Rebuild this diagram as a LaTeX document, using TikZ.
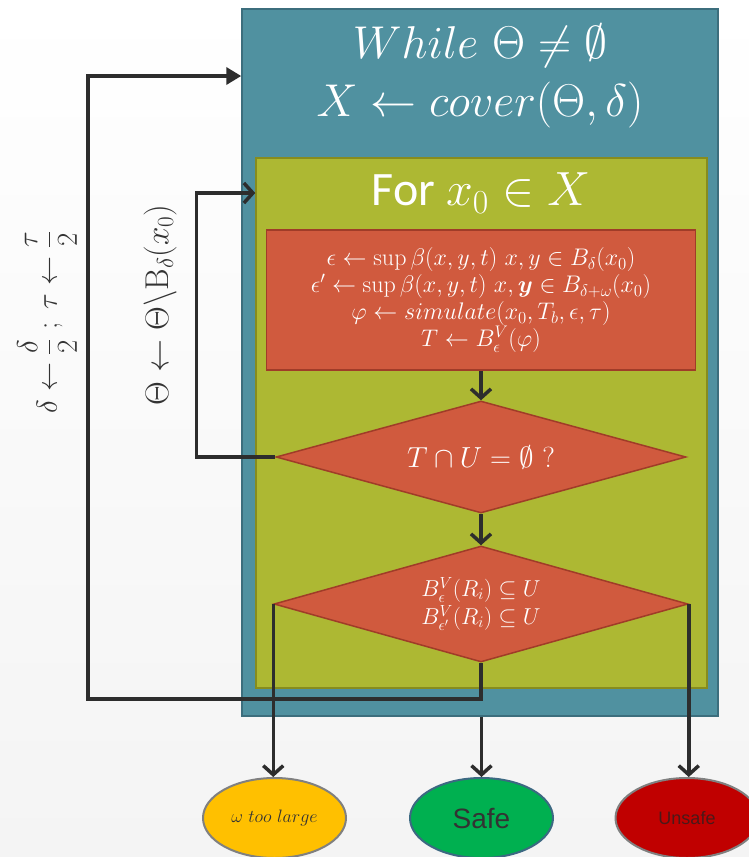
\RequirePackage{fix-cm}
\documentclass[tikz,border=0pt]{standalone}
\usepackage{amsmath,amssymb}
\usepackage{fontspec}
\setsansfont{Carlito}
\newfontfamily\arialfont{Liberation Sans}
\usepackage{tikz}
\usetikzlibrary{shapes.geometric, arrows.meta, positioning}
\definecolor{whileblue}{RGB}{80,145,160}
\definecolor{whileedge}{RGB}{60,110,125}
\definecolor{forgreen}{RGB}{173,184,51}
\definecolor{foredge}{RGB}{135,140,30}
\definecolor{stepred}{RGB}{208,90,62}
\definecolor{stepedge}{RGB}{160,60,40}
\definecolor{flowline}{RGB}{45,45,45}
\definecolor{warnyellow}{RGB}{255,192,0}
\definecolor{safegreen}{RGB}{0,176,80}
\definecolor{unsafered}{RGB}{192,0,0}
\definecolor{ringgray}{RGB}{128,128,128}
\definecolor{ringblue}{RGB}{60,105,130}

\begin{document}
\begin{tikzpicture}[x=1pt, y=-1pt,
    boxnode/.style={rectangle, line width=1.5pt, inner sep=0pt},
    decision/.style={diamond, draw=stepedge, fill=stepred, line width=1.5pt,
                     inner sep=0pt, text=white},
    outcome/.style={ellipse, line width=2pt, minimum width=143pt,
                    minimum height=80pt, inner sep=0pt},
    flow/.style={draw=flowline, line width=3.5pt,
                 -{Straight Barb[length=9pt,width=20pt]}}
]
    \clip (0,0) rectangle (749,857);
    \shade[top color=white, bottom color={rgb,255:red,244;green,244;blue,244}]
        (0,0) rectangle (749,857);

    % nested loops
    \node[boxnode, draw=whileedge, fill=whileblue, minimum width=476pt,
          minimum height=707pt] (whilebox) at (480,362.5) {};
    \node[text=white, align=center, font=\fontsize{46}{58}\selectfont]
        (whiletxt) at (480,76) {$While\ \Theta\neq\emptyset$\\$X\leftarrow cover(\Theta,\delta)$};
    \node[boxnode, draw=foredge, fill=forgreen, minimum width=451pt,
          minimum height=530pt] (forbox) at (481.5,423) {};
    \node[text=white, font=\sffamily\fontsize{48}{56}\selectfont]
        (fortxt) at (481,193) {For $x_0\in X$};

    \node[boxnode, draw=stepedge, fill=stepred, minimum width=429pt,
          minimum height=140pt, text=white, align=center,
          font=\fontsize{24}{27}\selectfont] (update) at (481,300) {%
        $\epsilon\leftarrow\sup\beta(x,y,t)\ x,y\in B_\delta(x_0)$\\
        $\epsilon'\leftarrow\sup\beta(x,y,t)\ x,\boldsymbol{y}\in B_{\delta+\omega}(x_0)$\\
        $\varphi\leftarrow simulate(x_0,T_b,\epsilon,\tau)$\\
        $T\leftarrow B^V_\epsilon(\varphi)$};

    \node[decision, minimum width=410pt, minimum height=112pt, aspect=3.66,
          font=\fontsize{29}{32}\selectfont] (check) at (481,457)
        {$T\cap U=\emptyset$ ?};
    \node[decision, minimum width=414pt, minimum height=116pt, aspect=3.57,
          align=center, font=\fontsize{23}{28}\selectfont] (verify) at (481,604)
        {$B^V_\epsilon(R_i)\subseteq U$\\$B^V_{\epsilon'}(R_i)\subseteq U$};

    % outcomes
    \node[outcome, draw=ringgray, fill=warnyellow, text=black!80,
          font=\fontsize{18}{20}\selectfont] (large) at (274.5,818)
        {$\omega\ too\ large$};
    \node[outcome, draw=ringblue, fill=safegreen, text=black!80,
          font=\arialfont\fontsize{28}{32}\selectfont] (safe) at (481.5,818) {Safe};
    \node[outcome, draw=ringgray, fill=unsafered, text={rgb,255:red,75;green,25;blue,25},
          font=\arialfont\fontsize{18}{22}\selectfont] (unsafe) at (687,818) {Unsafe};

    % updates written beside the loops
    \node[rotate=90, text=black!80, font=\fontsize{29}{32}\selectfont]
        (shrink) at (47,322) {$\delta\leftarrow\dfrac{\delta}{2}\ ;\ \tau\leftarrow\dfrac{\tau}{2}$};
    \node[rotate=90, text=black!80, font=\fontsize{33}{36}\selectfont]
        (prune) at (160,305) {$\Theta\leftarrow\Theta\backslash\mathrm{B}_\delta(x_0)$};

    % connectors
    \draw[flow] (update) -- (check);
    \draw[flow] (check) -- (verify);
    \draw[flow] (check.west) -- ++(-79,0) |- (forbox.west |- fortxt);
    \draw[flow, -{Triangle[length=15pt,width=17pt]}]
        (verify.south) -- ++(0,36) -- ++(-393,0) |- (whilebox.west |- whiletxt);
    \draw[flow] (verify.west) -- (verify.west |- large.north);
    \draw[flow] (verify.east) -- (verify.east |- unsafe.north);
    \draw[flow] (whilebox.south -| safe.north) -- (safe.north);
\end{tikzpicture}
\end{document}
